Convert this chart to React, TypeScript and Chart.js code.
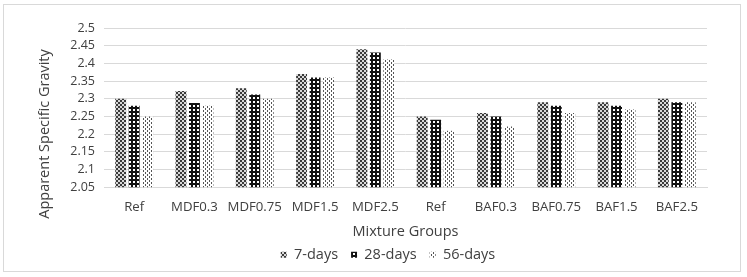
import React, { useEffect, useRef } from "react";
import { Chart, registerables } from "chart.js";

Chart.register(...registerables);

const categories = ["Ref", "MDF0.3", "MDF0.75", "MDF1.5", "MDF2.5", "Ref", "BAF0.3", "BAF0.75", "BAF1.5", "BAF2.5"];
const days7 = [2.30, 2.322, 2.33, 2.37, 2.44, 2.25, 2.26, 2.29, 2.29, 2.30];
const days28 = [2.28, 2.288, 2.312, 2.36, 2.431, 2.241, 2.25, 2.28, 2.28, 2.29];
const days56 = [2.25, 2.28, 2.30, 2.36, 2.411, 2.21, 2.222, 2.26, 2.27, 2.29];
const seriesNames = ["7-days", "28-days", "56-days"];
const yMin = 2.05;
const yMax = 2.5;
const yStep = 0.05;
const xTitle = "Mixture Groups";
const yTitle = "Apparent Specific Gravity";

const FONT = "'Open Sans', sans-serif";
const TEXT = "#404040";

function makePattern(size: number, bg: string, fg: string, cells: [number, number, number, number][]) {
  const c = document.createElement("canvas");
  c.width = size;
  c.height = size;
  const g = c.getContext("2d")!;
  g.fillStyle = bg;
  g.fillRect(0, 0, size, size);
  g.fillStyle = fg;
  for (const [x, y, w, h] of cells) g.fillRect(x, y, w, h);
  return g.createPattern(c, "repeat")!;
}

const yTitlePlugin = {
  id: "yTitlePlugin",
  afterDraw(chart: any) {
    const ctx = chart.ctx;
    ctx.save();
    ctx.translate(45, 134);
    ctx.rotate(-Math.PI / 2);
    ctx.textAlign = "center";
    ctx.textBaseline = "middle";
    ctx.font = `14.5px ${FONT}`;
    ctx.fillStyle = TEXT;
    ctx.fillText(yTitle, 0, 0);
    ctx.restore();
  },
};

export default function App() {
  const ref = useRef<HTMLCanvasElement>(null);
  useEffect(() => {
    document.body.style.margin = "0";
    const p7 = makePattern(4, "#d8d8d8", "#3a3a3a", [[0, 0, 2, 2], [2, 2, 2, 2]]);
    const p28 = makePattern(4, "#111111", "#ffffff", [[1, 1, 2, 2]]);
    const p56 = makePattern(4, "#ffffff", "#555555", [[1, 0, 1, 2], [3, 2, 1, 2]]);
    const chart = new Chart(ref.current!, {
      type: "bar",
      data: {
        labels: categories,
        datasets: [
          { label: seriesNames[0], data: days7, backgroundColor: p7 as any },
          { label: seriesNames[1], data: days28, backgroundColor: p28 as any },
          { label: seriesNames[2], data: days56, backgroundColor: p56 as any },
        ],
      },
      options: {
        animation: false,
        responsive: false,
        maintainAspectRatio: false,
        datasets: { bar: { categoryPercentage: 0.67, barPercentage: 0.81, borderWidth: 0 } },
        layout: { padding: { left: 69, right: 40, top: 28, bottom: 5 } },
        plugins: {
          tooltip: { enabled: false },
          legend: {
            position: "bottom",
            labels: {
              boxWidth: 6,
              boxHeight: 6,
              padding: 13,
              color: TEXT,
              font: { family: FONT, size: 14.5 },
            },
          },
        },
        scales: {
          x: {
            grid: { display: false, drawTicks: false },
            border: { display: true, color: "#d9d9d9", width: 1 },
            ticks: { color: TEXT, font: { family: FONT, size: 13.2 }, padding: 12, maxRotation: 0, autoSkip: false },
            title: { display: true, text: xTitle, color: TEXT, font: { family: FONT, size: 14.5 }, padding: { top: -4, bottom: -6 } },
          },
          y: {
            min: yMin,
            max: yMax,
            afterFit(scale: any) { scale.width = 35; },
            grid: { color: "#d9d9d9", lineWidth: 1, drawTicks: false },
            border: { display: false },
            ticks: {
              stepSize: yStep,
              autoSkip: false,
              color: TEXT,
              font: { family: FONT, size: 12.5 },
              padding: 9,
              callback: (v: any) => String(Number(Number(v).toFixed(2))),
            },
          },
        },
      },
      plugins: [yTitlePlugin],
    });
    return () => chart.destroy();
  }, []);
  return (
    <div style={{ position: "relative", width: 747, height: 277 }}>
      <div style={{ position: "absolute", left: 3, top: 4, width: 736, height: 266, border: "1px solid #d9d9d9" }} />
      <canvas ref={ref} width={747} height={277} style={{ position: "absolute", left: 0, top: 0, width: 747, height: 277 }} />
    </div>
  );
}
